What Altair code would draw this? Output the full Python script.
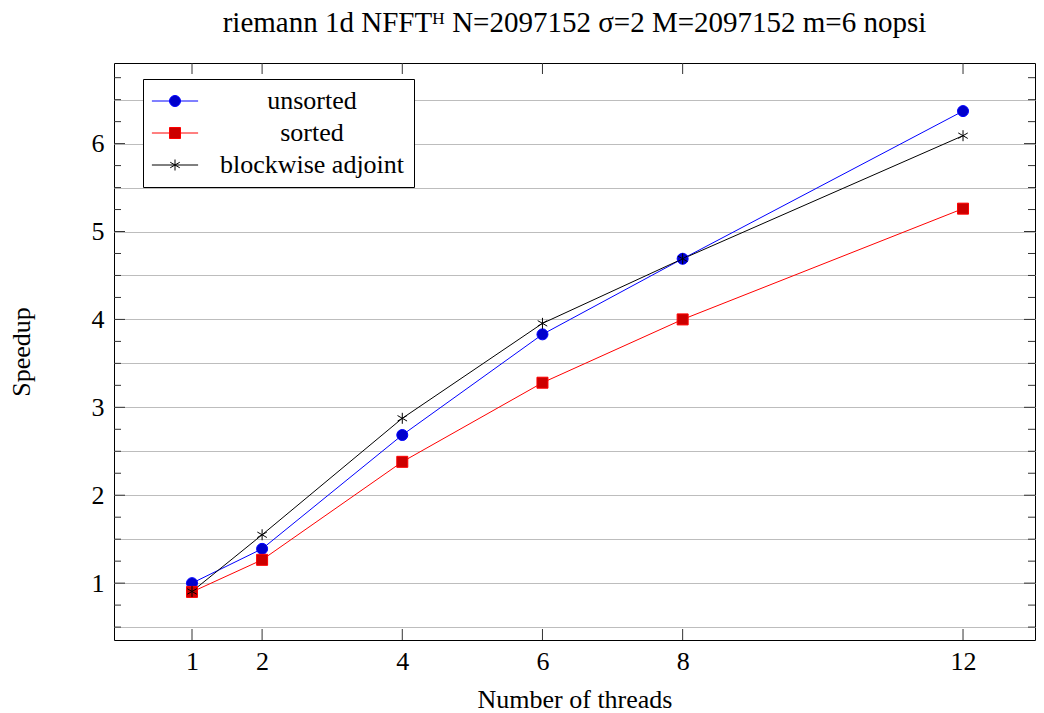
import altair as alt
import pandas as pd

# ---- data ----
threads = [1, 2, 4, 6, 8, 12]
series_names = ["unsorted", "sorted", "blockwise adjoint"]
unsorted_vals = [1.00, 1.39, 2.685, 3.83, 4.69, 6.37]
sorted_vals = [0.90, 1.265, 2.38, 3.28, 4.00, 5.26]
blockwise_vals = [0.905, 1.55, 2.875, 3.955, 4.69, 6.09]

y_major = [1, 2, 3, 4, 5, 6]
y_grid = [0.5, 0.75, 1.0, 1.25, 1.5, 1.75, 2.0, 2.25, 2.5, 2.75, 3.0, 3.25, 3.5,
          3.75, 4.0, 4.25, 4.5, 4.75, 5.0, 5.25, 5.5, 5.75, 6.0, 6.25, 6.5, 6.75]
y_minor = [0.5, 0.75, 1.25, 1.5, 1.75, 2.25, 2.5, 2.75, 3.25, 3.5, 3.75, 4.25, 4.5,
           4.75, 5.25, 5.5, 5.75, 6.25, 6.5, 6.75]

line_colors = ["#0000ff", "#ff0000", "#000000"]
fill_colors = ["#0000cc", "#cc0000", "#000000"]
STAR = "M0,-1L0,1M-0.866,-0.5L0.866,0.5M-0.866,0.5L0.866,-0.5"
shapes = ["circle", "square", STAR]

rows = []
for name, vals in zip(series_names, [unsorted_vals, sorted_vals, blockwise_vals]):
    for t, v in zip(threads, vals):
        rows.append({"series": name, "threads": t, "speedup": v})
df = pd.DataFrame(rows)

xt_df = pd.DataFrame({"threads": threads})
ymaj_df = pd.DataFrame({"speedup": y_major})
ymin_df = pd.DataFrame({"speedup": y_minor})

W, H = 921, 577
FONT = "Liberation Serif"

xscale = alt.Scale(domain=[-0.113, 13.027], nice=False, zero=False)
yscale = alt.Scale(domain=[0.353, 6.917], nice=False, zero=False)

x_enc = alt.X("threads:Q", scale=xscale,
              axis=alt.Axis(values=threads, format="d", grid=False, ticks=False,
                            domain=False, labelPadding=8, title="Number of threads",
                            titlePadding=12))
y_enc = alt.Y("speedup:Q", scale=yscale,
              axis=alt.Axis(values=y_grid,
                            labelExpr="datum.value % 1 === 0 ? format(datum.value, 'd') : ''",
                            grid=True, gridColor="#bdbdbd", gridWidth=1,
                            ticks=False, domain=False, labelPadding=10,
                            title="Speedup", titlePadding=57))

LX, LY = 29, 16
common_leg = dict(orient="none", legendX=LX, legendY=LY, title=None,
                  symbolSize=121, symbolStrokeWidth=1, symbolOffset=10,
                  labelFont=FONT, labelFontSize=26, labelColor="black",
                  labelAlign="center", labelOffset=124, rowPadding=6, padding=9,
                  labelLimit=400)

line_legend = alt.Legend(symbolType="M-4.2,0L4.2,0", labelOpacity=0,
                         fillColor="white", strokeColor="black", zindex=1,
                         **common_leg)
point_legend = alt.Legend(zindex=2, **common_leg)

lines = alt.Chart(df).mark_line(strokeWidth=1).encode(
    x=x_enc, y=y_enc,
    color=alt.Color("series:N", sort="descending",
                    scale=alt.Scale(range=line_colors), legend=line_legend),
    order="threads:Q",
)

points = alt.Chart(df).mark_point(filled=True, size=121, strokeWidth=1, opacity=1).encode(
    x=alt.X("threads:Q"), y=alt.Y("speedup:Q"),
    fill=alt.Fill("series:N", scale=alt.Scale(domain=series_names, range=fill_colors),
                  legend=point_legend),
    stroke=alt.Stroke("series:N", scale=alt.Scale(domain=series_names, range=line_colors),
                      legend=point_legend),
    shape=alt.Shape("series:N", scale=alt.Scale(domain=series_names, range=shapes),
                    legend=point_legend),
)

TICK = "#333333"
xt_bottom = alt.Chart(xt_df).mark_rule(color=TICK, strokeWidth=1).encode(
    x="threads:Q", y=alt.value(H), y2=alt.value(H - 11))
xt_top = alt.Chart(xt_df).mark_rule(color=TICK, strokeWidth=1).encode(
    x="threads:Q", y=alt.value(0), y2=alt.value(11))
ymaj_left = alt.Chart(ymaj_df).mark_rule(color=TICK, strokeWidth=1).encode(
    y="speedup:Q", x=alt.value(0), x2=alt.value(11))
ymaj_right = alt.Chart(ymaj_df).mark_rule(color=TICK, strokeWidth=1).encode(
    y="speedup:Q", x=alt.value(W - 11), x2=alt.value(W))
ymin_left = alt.Chart(ymin_df).mark_rule(color=TICK, strokeWidth=1).encode(
    y="speedup:Q", x=alt.value(0), x2=alt.value(7))
ymin_right = alt.Chart(ymin_df).mark_rule(color=TICK, strokeWidth=1).encode(
    y="speedup:Q", x=alt.value(W - 7), x2=alt.value(W))

chart = alt.layer(
    lines, points, xt_bottom, xt_top, ymaj_left, ymaj_right, ymin_left, ymin_right
).properties(
    width=W, height=H,
    autosize=alt.AutoSizeParams(type="none"),
    padding={"left": 106, "top": 55, "right": 1, "bottom": 70},
    title=alt.Title("riemann 1d NFFTᴴ N=2097152 σ=2 M=2097152 m=6 nopsi",
                    font=FONT, fontSize=29, fontWeight="normal", color="black",
                    anchor="middle", offset=25),
).configure_view(
    stroke="black", strokeWidth=1
).configure_axis(
    labelFont=FONT, labelFontSize=26, labelColor="black",
    titleFont=FONT, titleFontSize=26, titleColor="black", titleFontWeight="normal",
)

chart.save("out.html", embed_options={"renderer": "svg", "actions": False})
